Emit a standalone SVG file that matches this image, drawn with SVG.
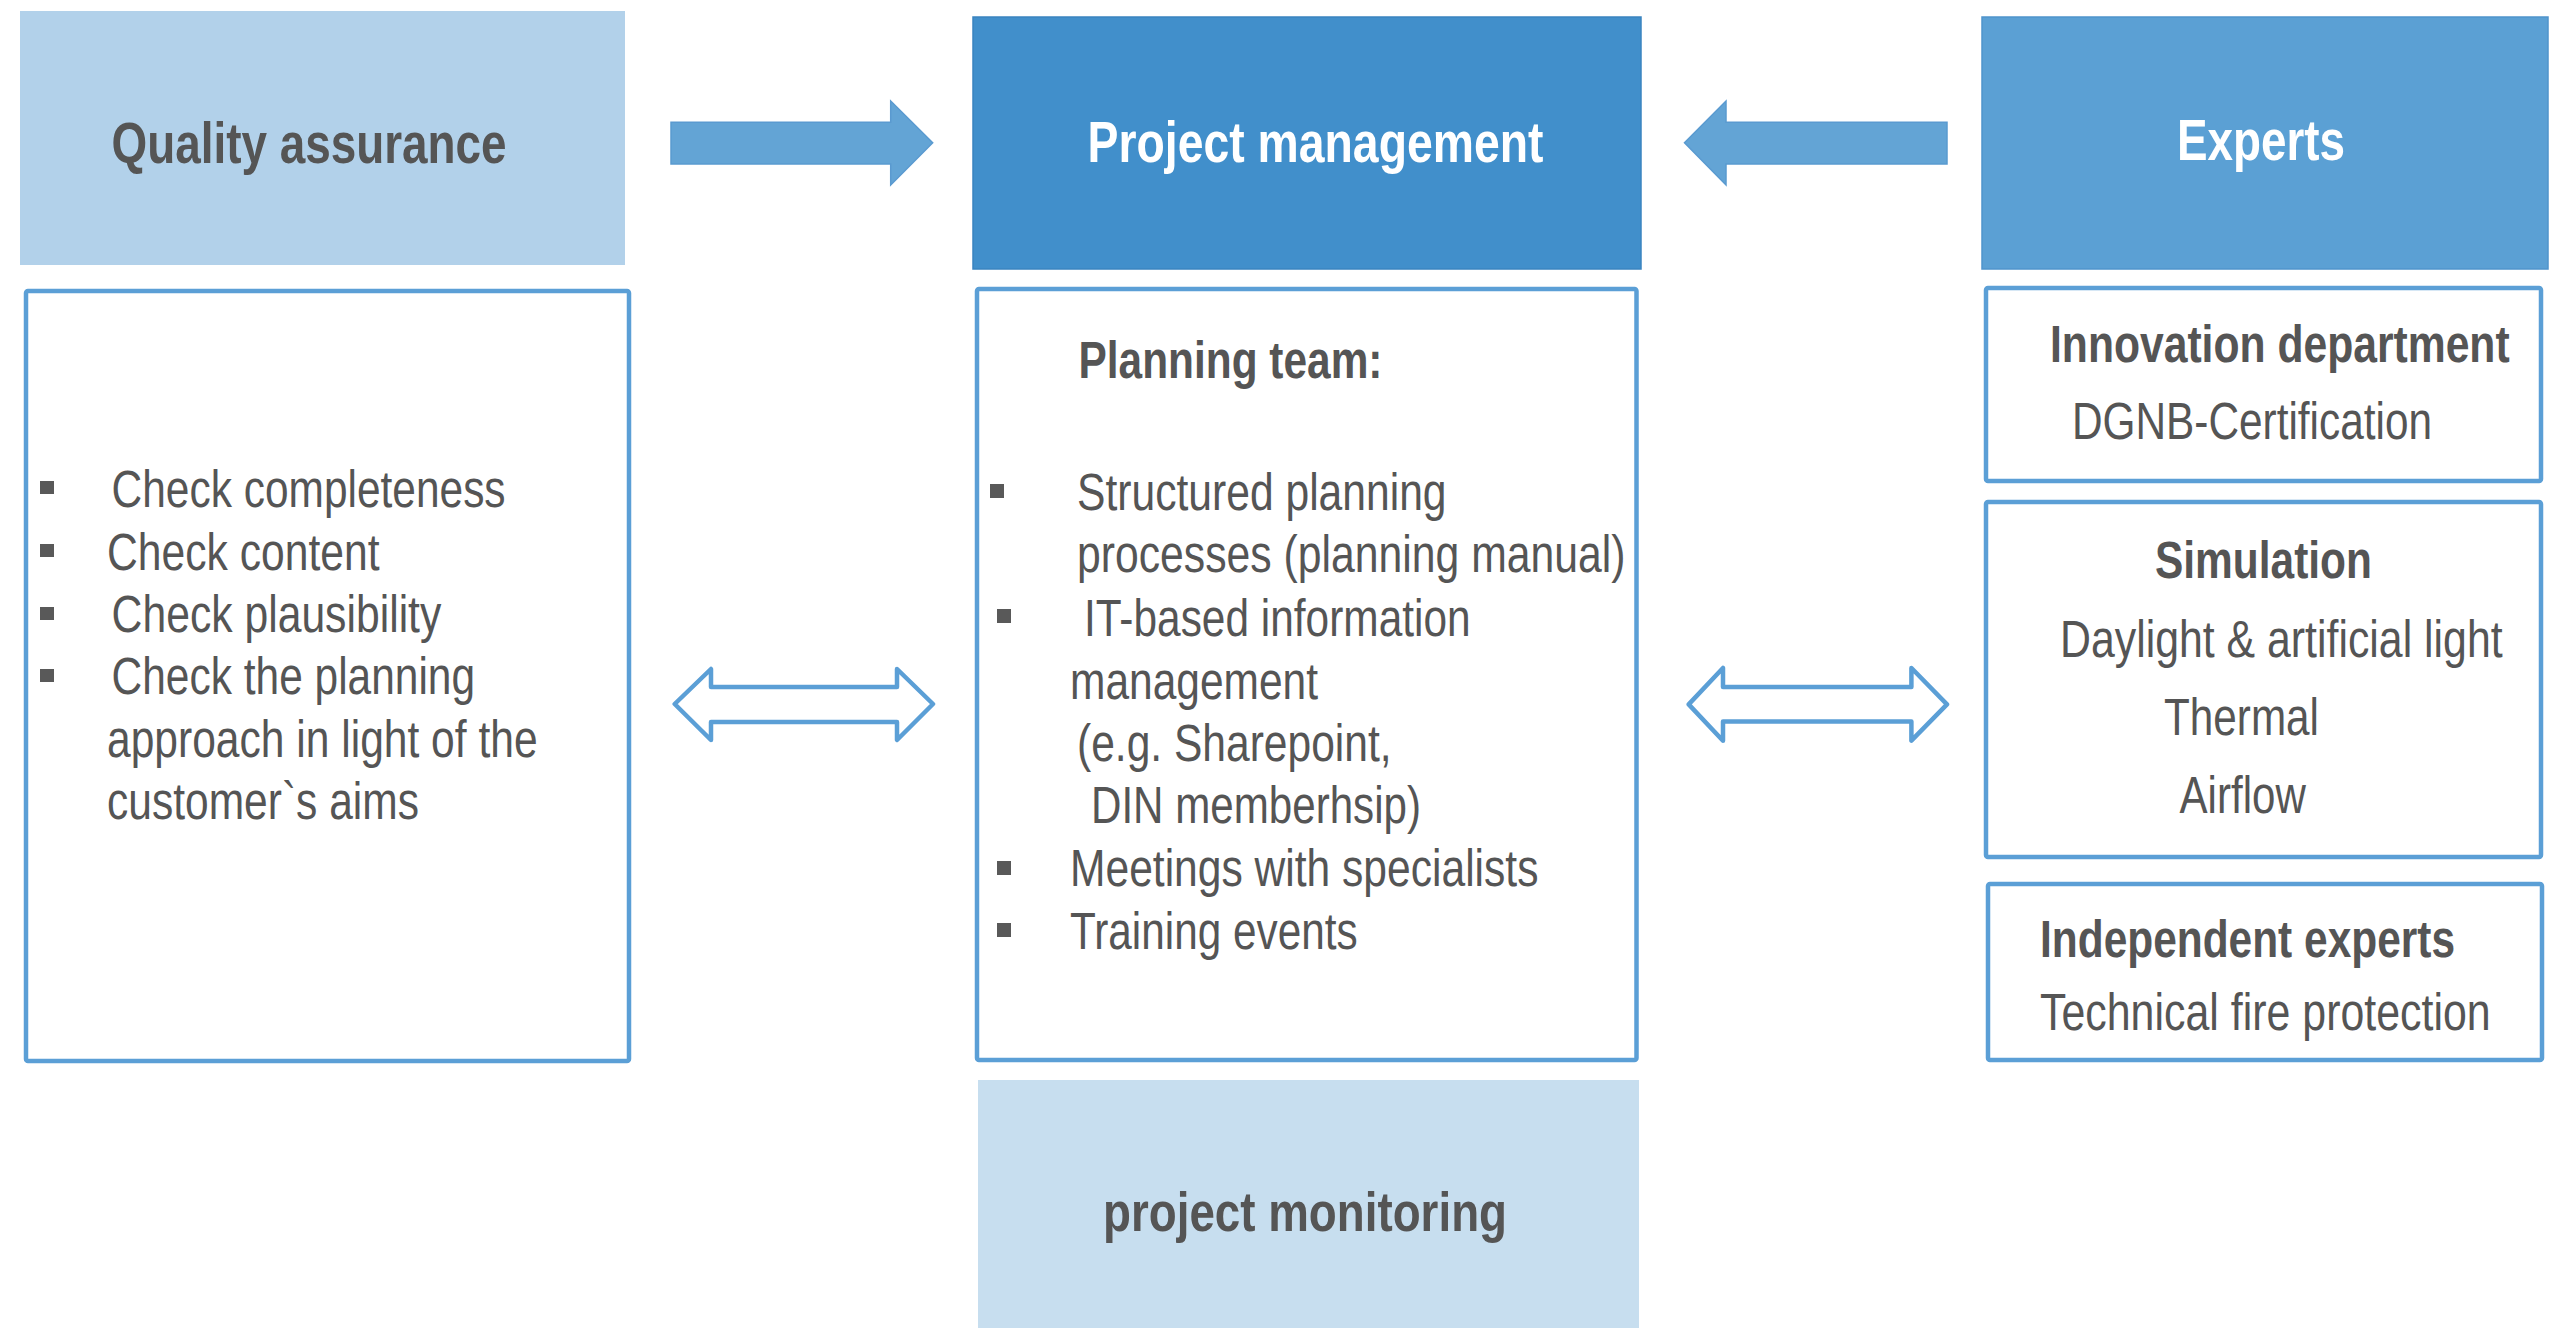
<svg xmlns="http://www.w3.org/2000/svg" width="2560" height="1343" viewBox="0 0 2560 1343">
<defs>
<style>
text { font-family: "Liberation Sans", Arial, sans-serif; fill: #555555; }
.hd { font-size: 58px; font-weight: bold; }
.wh { fill: #ffffff; }
.b { font-size: 51px; font-weight: bold; }
.r { font-size: 51px; }
.pmon { font-size: 55px; font-weight: bold; }
.box { fill: #ffffff; stroke: #5B9FD6; stroke-width: 4.5; }
.bul { fill: #595959; }
.fat { fill: #63A4D5; stroke: #5A9AD0; stroke-width: 1.5; }
.dbl { fill: #ffffff; stroke: #5B9FD6; stroke-width: 4.5; stroke-linejoin: round; }
</style>
</defs>
<rect width="2560" height="1343" fill="#ffffff"/>

<g id="qa-header">
<rect x="20" y="11" width="605" height="254" fill="#B2D1EA"/>
<text class="hd" transform="translate(111.6,0) scale(0.82,1)" x="0" y="163" textLength="481.7" lengthAdjust="spacingAndGlyphs">Quality assurance</text>
</g>

<g id="pm-header">
<rect x="973" y="17" width="668" height="252" fill="#418FCB" stroke="#3A84C0" stroke-width="1.5"/>
<text class="hd wh" transform="translate(1087.5,0) scale(0.82,1)" x="0" y="162" textLength="556.1" lengthAdjust="spacingAndGlyphs">Project management</text>
</g>

<g id="experts-header">
<rect x="1982" y="17" width="566" height="252" fill="#5BA0D4" stroke="#4F94CC" stroke-width="1.5"/>
<text class="hd wh" transform="translate(2177,0) scale(0.82,1)" x="0" y="160" textLength="204.9" lengthAdjust="spacingAndGlyphs">Experts</text>
</g>

<g id="qa-body">
<rect class="box" x="26" y="291" width="603" height="770" rx="2"/>
<rect class="bul" x="40" y="481" width="14" height="13"/>
<rect class="bul" x="40" y="544" width="14" height="13"/>
<rect class="bul" x="40" y="607" width="14" height="13"/>
<rect class="bul" x="40" y="669" width="14" height="13"/>
<text class="r" transform="translate(111.6,0) scale(0.82,1)" x="0" y="507" textLength="480.5" lengthAdjust="spacingAndGlyphs">Check completeness</text>
<text class="r" transform="translate(107,0) scale(0.82,1)" x="0" y="570" textLength="332.3" lengthAdjust="spacingAndGlyphs">Check content</text>
<text class="r" transform="translate(111.6,0) scale(0.82,1)" x="0" y="632" textLength="402.1" lengthAdjust="spacingAndGlyphs">Check plausibility</text>
<text class="r" transform="translate(111.6,0) scale(0.82,1)" x="0" y="694" textLength="443.3" lengthAdjust="spacingAndGlyphs">Check the planning</text>
<text class="r" transform="translate(107,0) scale(0.82,1)" x="0" y="757" textLength="525.1" lengthAdjust="spacingAndGlyphs">approach in light of the</text>
<text class="r" transform="translate(107,0) scale(0.82,1)" x="0" y="819" textLength="380.5" lengthAdjust="spacingAndGlyphs">customer`s aims</text>
</g>

<g id="pm-body">
<rect class="box" x="977" y="289" width="659.5" height="771" rx="2"/>
<text class="b" transform="translate(1078.5,0) scale(0.82,1)" x="0" y="378.5" textLength="370.7" lengthAdjust="spacingAndGlyphs">Planning team:</text>
<rect class="bul" x="990" y="484" width="14" height="14"/>
<rect class="bul" x="997" y="609" width="14" height="14"/>
<rect class="bul" x="997" y="861" width="14" height="14"/>
<rect class="bul" x="997" y="923" width="14" height="14"/>
<text class="r" transform="translate(1077,0) scale(0.82,1)" x="0" y="510" textLength="450.7" lengthAdjust="spacingAndGlyphs">Structured planning</text>
<text class="r" transform="translate(1077,0) scale(0.82,1)" x="0" y="572" textLength="669" lengthAdjust="spacingAndGlyphs">processes (planning manual)</text>
<text class="r" transform="translate(1084,0) scale(0.82,1)" x="0" y="635.7" textLength="471.5" lengthAdjust="spacingAndGlyphs">IT-based information</text>
<text class="r" transform="translate(1070,0) scale(0.82,1)" x="0" y="698.7" textLength="302.4" lengthAdjust="spacingAndGlyphs">management</text>
<text class="r" transform="translate(1077,0) scale(0.82,1)" x="0" y="760.7" textLength="383.7" lengthAdjust="spacingAndGlyphs">(e.g. Sharepoint,</text>
<text class="r" transform="translate(1091,0) scale(0.82,1)" x="0" y="822.7" textLength="402.4" lengthAdjust="spacingAndGlyphs">DIN memberhsip)</text>
<text class="r" transform="translate(1070,0) scale(0.82,1)" x="0" y="886" textLength="571.3" lengthAdjust="spacingAndGlyphs">Meetings with specialists</text>
<text class="r" transform="translate(1070,0) scale(0.82,1)" x="0" y="949" textLength="350.7" lengthAdjust="spacingAndGlyphs">Training events</text>
</g>

<g id="innovation">
<rect class="box" x="1986" y="288" width="555" height="193" rx="2"/>
<text class="b" transform="translate(2050,0) scale(0.82,1)" x="0" y="362" textLength="560.5" lengthAdjust="spacingAndGlyphs">Innovation department</text>
<text class="r" transform="translate(2072,0) scale(0.82,1)" x="0" y="439" textLength="439" lengthAdjust="spacingAndGlyphs">DGNB-Certification</text>
</g>

<g id="simulation">
<rect class="box" x="1986" y="502" width="555" height="355" rx="2"/>
<text class="b" transform="translate(2155,0) scale(0.82,1)" x="0" y="578" textLength="264.6" lengthAdjust="spacingAndGlyphs">Simulation</text>
<text class="r" transform="translate(2060,0) scale(0.82,1)" x="0" y="657" textLength="539.8" lengthAdjust="spacingAndGlyphs">Daylight &amp; artificial light</text>
<text class="r" transform="translate(2164,0) scale(0.82,1)" x="0" y="735" textLength="189" lengthAdjust="spacingAndGlyphs">Thermal</text>
<text class="r" transform="translate(2179.5,0) scale(0.82,1)" x="0" y="813.4" textLength="154" lengthAdjust="spacingAndGlyphs">Airflow</text>
</g>

<g id="independent">
<rect class="box" x="1988" y="884" width="554" height="176" rx="2"/>
<text class="b" transform="translate(2040,0) scale(0.82,1)" x="0" y="957.3" textLength="506.1" lengthAdjust="spacingAndGlyphs">Independent experts</text>
<text class="r" transform="translate(2040,0) scale(0.82,1)" x="0" y="1030" textLength="549.6" lengthAdjust="spacingAndGlyphs">Technical fire protection</text>
</g>

<g id="monitoring">
<rect x="978" y="1080" width="661" height="248" fill="#C7DEEF"/>
<text class="pmon" transform="translate(1103,0) scale(0.82,1)" x="0" y="1230.7" textLength="492.7" lengthAdjust="spacingAndGlyphs">project monitoring</text>
</g>

<g id="connectors">
<polygon class="fat" points="671,122.3 890.7,122.3 890.7,101 932.7,142.7 890.7,185 890.7,164 671,164"/>
<polygon class="fat" points="1947,122.3 1726,122.3 1726,101 1684.5,142.7 1726,185 1726,164 1947,164"/>
<polygon class="dbl" points="674.7,704 711,669 711,687 897,687 897,669 933,704 897,740 897,722 711,722 711,740"/>
<polygon class="dbl" points="1688.7,704.4 1723,668 1723,687 1911.4,687 1911.4,668 1947,704.4 1911.4,740.7 1911.4,721.6 1723,721.6 1723,740.7"/>
</g>
</svg>
